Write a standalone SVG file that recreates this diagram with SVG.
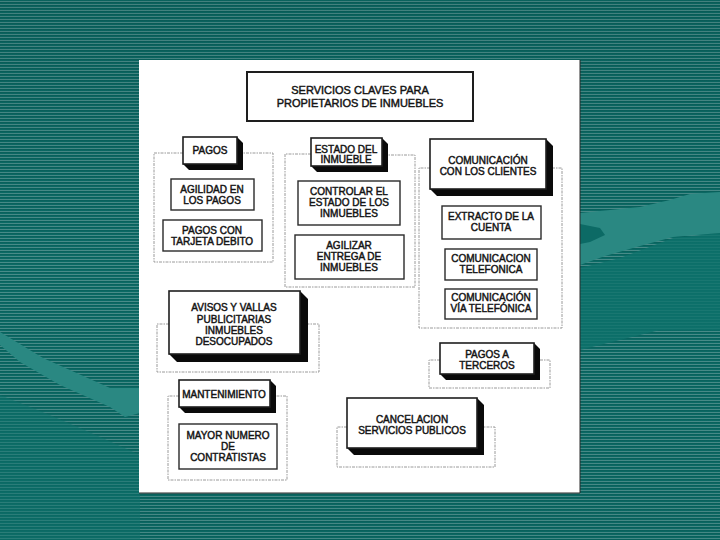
<svg xmlns="http://www.w3.org/2000/svg" width="720" height="540" viewBox="0 0 720 540">
<defs>
<pattern id="stripes" width="4" height="3" patternUnits="userSpaceOnUse">
<rect width="4" height="1.5" fill="#0b6a65"/>
<rect y="1.5" width="4" height="1.5" fill="#09635e"/>
</pattern>
<linearGradient id="shade" x1="0" y1="0" x2="0" y2="1">
<stop offset="0" stop-color="#000" stop-opacity="0.08"/>
<stop offset="0.5" stop-color="#000" stop-opacity="0"/>
<stop offset="1" stop-color="#000" stop-opacity="0.03"/>
</linearGradient>
</defs>
<style>
.t{font-family:"Liberation Sans",Arial,sans-serif;font-size:10px;fill:#141414;stroke:#141414;stroke-width:0.45;text-anchor:middle}
.tt{font-size:11px}
.box{fill:#fff;stroke:#1e1e1e;stroke-width:1.6}
.sh{fill:#0a0a0a}
.plain{fill:#fff;stroke:#2a2a2a;stroke-width:1.4}
.frame{fill:none;stroke:#9a9a9a;stroke-width:1;stroke-dasharray:3 1 1.5 1}
.wave{fill:#2a8882}
.wave2{fill:#0e726c}
</style>

<!-- background -->
<rect width="720" height="540" fill="url(#stripes)"/>
<rect width="720" height="540" fill="url(#shade)"/>
<path class="wave2" d="M0,395 C40,410 90,432 140,455 L140,540 L0,540 Z" opacity="0.5"/>
<path class="wave" d="M0,332 L43,358 L110,388 L140,388 L140,413 L125,417 L110,407 L60,385 L20,362 L0,345 Z"/>
<path class="wave2" d="M580,268 L620,258 L673,238 L720,233 L720,330 L660,330 L600,345 L580,350 Z" opacity="0.8"/>
<path class="wave" d="M580,213 L640,207 L670,200 L690,194 L720,192 L720,233 L673,237 L640,246 L605,256 L580,265 Z"/>
<path d="M580,224 L600,228 L605,235 L590,242 L580,244 Z" fill="#0c6a65"/>

<!-- white panel -->
<rect x="139" y="60" width="441" height="433" fill="#fff"/>
<path d="M580,60 V493 H139" fill="none" stroke="#2b2b2b" stroke-width="1"/>

<!-- connectors / grouping frames -->
<g id="connectors">
<path class="frame" d="M183,153 H154 V262 H273 V153 H243"/>
<path class="frame" d="M311,154 H285 V287 H415 V155 H387"/>
<path class="frame" d="M430,168 H419 V328 H562 V168 H552"/>
<path class="frame" d="M169,324 H157 V372 H319 V324 H308"/>
<path class="frame" d="M440,360 H429 V388 H550 V360 H540"/>
<path class="frame" d="M179,396 H168 V480 H287 V396 H276"/>
<path class="frame" d="M347,427 H337 V467 H495 V427 H484"/>
</g>

<g id="title">
<rect x="247" y="72" width="226" height="49" fill="#fff" stroke="#1e1e1e" stroke-width="2"/>
<text class="t tt" x="360" y="94">SERVICIOS CLAVES PARA</text>
<text class="t tt" x="360" y="107">PROPIETARIOS DE INMUEBLES</text>
</g>

<g id="pagos">
<path class="sh" d="M237,137 L243,143 L243,170 L189,170 L183,164 Z"/>
<rect class="box" x="183" y="137" width="54" height="27"/>
<text class="t" x="210" y="154">PAGOS</text>
</g>
<g id="agilidad">
<rect class="plain" x="171" y="179" width="83" height="31"/>
<text class="t" x="212" y="193">AGILIDAD EN</text>
<text class="t" x="212" y="204">LOS PAGOS</text>
</g>
<g id="tarjeta">
<rect class="plain" x="163" y="220" width="99" height="31"/>
<text class="t" x="212" y="234">PAGOS CON</text>
<text class="t" x="212" y="245">TARJETA DEBITO</text>
</g>

<g id="estado">
<path class="sh" d="M382,138 L388,144 L388,172 L317,172 L311,166 Z"/>
<rect class="box" x="311" y="138" width="71" height="28"/>
<text class="t" x="346" y="153">ESTADO DEL</text>
<text class="t" x="346" y="163">INMUEBLE</text>
</g>
<g id="controlar">
<rect class="plain" x="298" y="181" width="102" height="44"/>
<text class="t" x="349" y="195">CONTROLAR EL</text>
<text class="t" x="349" y="206">ESTADO DE LOS</text>
<text class="t" x="349" y="217">INMUEBLES</text>
</g>
<g id="agilizar">
<rect class="plain" x="295" y="235" width="109" height="44"/>
<text class="t" x="349" y="249">AGILIZAR</text>
<text class="t" x="349" y="260">ENTREGA DE</text>
<text class="t" x="349" y="271">INMUEBLES</text>
</g>

<g id="comunicacion">
<path class="sh" d="M546,139 L553,146 L553,196 L437,196 L430,189 Z"/>
<rect class="box" x="430" y="139" width="116" height="50"/>
<text class="t" x="488" y="164">COMUNICACIÓN</text>
<text class="t" x="488" y="175">CON LOS CLIENTES</text>
</g>
<g id="extracto">
<rect class="plain" x="442" y="206" width="99" height="33"/>
<text class="t" x="491" y="220">EXTRACTO DE LA</text>
<text class="t" x="491" y="231">CUENTA</text>
</g>
<g id="telefonica">
<rect class="plain" x="445" y="249" width="92" height="31"/>
<text class="t" x="491" y="262">COMUNICACION</text>
<text class="t" x="491" y="273">TELEFONICA</text>
</g>
<g id="via">
<rect class="plain" x="445" y="289" width="92" height="30"/>
<text class="t" x="491" y="301">COMUNICACIÓN</text>
<text class="t" x="491" y="312">VÍA TELEFÓNICA</text>
</g>

<g id="avisos">
<path class="sh" d="M300,291 L308,299 L308,362 L177,362 L169,354 Z"/>
<rect class="box" x="169" y="291" width="131" height="63"/>
<text class="t" x="234" y="311">AVISOS Y VALLAS</text>
<text class="t" x="234" y="323">PUBLICITARIAS</text>
<text class="t" x="234" y="334">INMUEBLES</text>
<text class="t" x="234" y="345">DESOCUPADOS</text>
</g>

<g id="terceros">
<path class="sh" d="M534,343 L540,349 L540,380 L446,380 L440,374 Z"/>
<rect class="box" x="440" y="343" width="94" height="31"/>
<text class="t" x="487" y="358">PAGOS A</text>
<text class="t" x="487" y="369">TERCEROS</text>
</g>

<g id="mantenimiento">
<path class="sh" d="M270,380 L276,386 L276,413 L185,413 L179,407 Z"/>
<rect class="box" x="179" y="380" width="91" height="27"/>
<text class="t" x="224" y="398" font-size="9.5">MANTENIMIENTO</text>
</g>
<g id="mayor">
<rect class="plain" x="179" y="424" width="98" height="45"/>
<text class="t" x="228" y="439">MAYOR NUMERO</text>
<text class="t" x="228" y="450">DE</text>
<text class="t" x="228" y="461">CONTRATISTAS</text>
</g>

<g id="cancelacion">
<path class="sh" d="M477,398 L484,405 L484,455 L354,455 L347,448 Z"/>
<rect class="box" x="347" y="398" width="130" height="50"/>
<text class="t" x="412" y="423">CANCELACION</text>
<text class="t" x="412" y="434">SERVICIOS PUBLICOS</text>
</g>
</svg>
